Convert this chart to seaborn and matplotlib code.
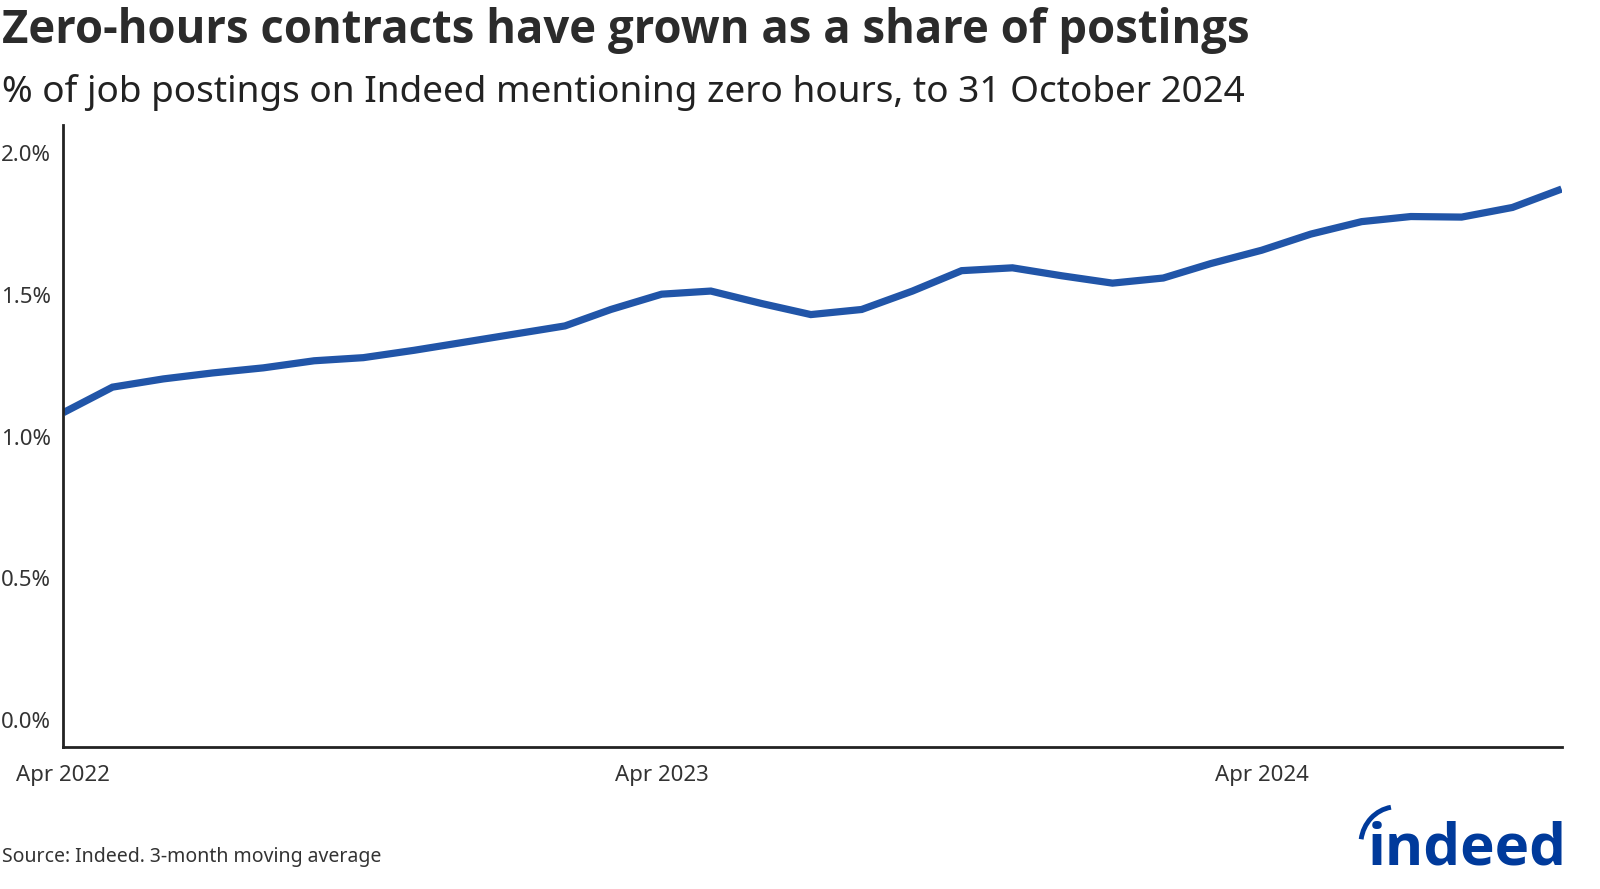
import matplotlib
matplotlib.use("Agg")
import matplotlib.pyplot as plt
from matplotlib.patches import Arc
import seaborn as sns
import pandas as pd

months = pd.date_range("2022-04-01", "2024-10-01", freq="MS")
share = [1.085, 1.175, 1.204, 1.225, 1.243, 1.268, 1.279, 1.305, 1.333, 1.362,
         1.391, 1.449, 1.503, 1.514, 1.470, 1.431, 1.449, 1.514, 1.586, 1.596,
         1.568, 1.542, 1.560, 1.611, 1.658, 1.715, 1.759, 1.777, 1.775, 1.809, 1.874]
y_ticks = [0.0, 0.5, 1.0, 1.5, 2.0]
y_labels = ["0.0%", "0.5%", "1.0%", "1.5%", "2.0%"]
x_tick_dates = pd.to_datetime(["2022-04-01", "2023-04-01", "2024-04-01"])
x_labels = ["Apr 2022", "Apr 2023", "Apr 2024"]

df = pd.DataFrame({"month": months, "share": share})

sns.set_theme(style="white")
plt.rcParams["font.family"] = ["Noto Sans", "DejaVu Sans"]

fig = plt.figure(figsize=(16, 8.89), dpi=100)
ax = fig.add_axes([0.0396, 0.1597, 0.9364, 0.6997])

sns.lineplot(data=df, x="month", y="share", ax=ax, color="#2155a8", linewidth=5.2,
             solid_capstyle="butt", solid_joinstyle="miter")

ax.set_xlim(months[0], months[-1])
ax.set_ylim(-0.095, 2.1)
ax.set_yticks(y_ticks)
ax.set_yticklabels(y_labels)
ax.set_xticks(x_tick_dates)
ax.set_xticklabels(x_labels)
ax.set_xlabel("")
ax.set_ylabel("")
ax.tick_params(axis="both", length=0, labelsize=16, colors="#333333")
ax.tick_params(axis="x", pad=13)
ax.tick_params(axis="y", pad=9)
for s in ["top", "right"]:
    ax.spines[s].set_visible(False)
for s in ["left", "bottom"]:
    ax.spines[s].set_color("#222222")
    ax.spines[s].set_linewidth(2)
ax.grid(False)

fig.text(0.001, 0.966, "Zero-hours contracts have grown as a share of postings",
         fontsize=32.8, fontweight="bold", family=["Open Sans", "DejaVu Sans"],
         color="#2b2b2b", va="center", ha="left")
fig.text(0.001, 0.896, "% of job postings on Indeed mentioning zero hours, to 31 October 2024",
         fontsize=26.6, color="#222222", va="center", ha="left")
fig.text(0.001, 0.036, "Source: Indeed. 3-month moving average",
         fontsize=14, color="#333333", va="center", ha="left")

# Indeed logo
fig.text(0.979, 0.027, "indeed", fontsize=42, fontweight="bold",
         family=["Open Sans", "DejaVu Sans"], color="#003a9b",
         ha="right", va="baseline")
arc = Arc((0.873, 0.050), 0.045, 0.085, theta1=95, theta2=165, transform=fig.transFigure,
          color="#003a9b", linewidth=3.5)
fig.add_artist(arc)

fig.savefig("out.png", dpi=100, facecolor="white")
